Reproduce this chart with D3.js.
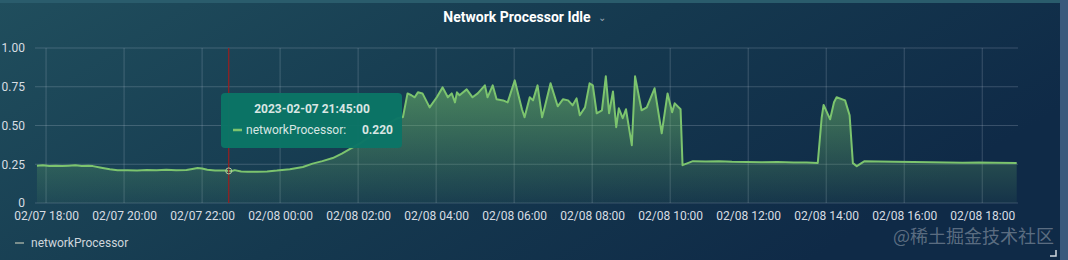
<!DOCTYPE html>
<html>
<head>
<meta charset="utf-8">
<script src="https://cdn.jsdelivr.net/npm/d3@7"></script>
<style>
  body { margin: 0; background: #14364e; }
  svg { display: block; font-family: Roboto, "Noto Sans", sans-serif; }
</style>
</head>
<body>
<div id="chart"></div>
<script>
// series: network processor idle, 2023-02-07 17:46 .. 2023-02-08 18:53
const times = [
  "2023-02-07 17:46","2023-02-07 17:55","2023-02-07 18:05","2023-02-07 18:15","2023-02-07 18:25",
  "2023-02-07 18:35","2023-02-07 18:45","2023-02-07 18:55","2023-02-07 19:05","2023-02-07 19:12",
  "2023-02-07 19:25","2023-02-07 19:38","2023-02-07 19:50","2023-02-07 20:05","2023-02-07 20:20",
  "2023-02-07 20:35","2023-02-07 20:50","2023-02-07 21:05","2023-02-07 21:20","2023-02-07 21:36",
  "2023-02-07 21:45","2023-02-07 21:53","2023-02-07 22:00","2023-02-07 22:08","2023-02-07 22:20",
  "2023-02-07 22:35","2023-02-07 22:45","2023-02-07 22:50","2023-02-07 23:00","2023-02-07 23:10",
  "2023-02-07 23:25","2023-02-07 23:40","2023-02-07 23:55","2023-02-08 00:15","2023-02-08 00:35",
  "2023-02-08 00:50","2023-02-08 01:05","2023-02-08 01:21","2023-02-08 01:35","2023-02-08 01:47",
  "2023-02-08 02:05","2023-02-08 02:25","2023-02-08 02:45","2023-02-08 03:00","2023-02-08 03:09",
  "2023-02-08 03:16","2023-02-08 03:22","2023-02-08 03:27","2023-02-08 03:32","2023-02-08 03:39",
  "2023-02-08 03:50","2023-02-08 04:01","2023-02-08 04:10","2023-02-08 04:18","2023-02-08 04:24",
  "2023-02-08 04:29","2023-02-08 04:32","2023-02-08 04:36","2023-02-08 04:47","2023-02-08 04:56",
  "2023-02-08 05:04","2023-02-08 05:15","2023-02-08 05:19","2023-02-08 05:27","2023-02-08 05:33",
  "2023-02-08 05:43","2023-02-08 05:50","2023-02-08 06:01","2023-02-08 06:12","2023-02-08 06:16",
  "2023-02-08 06:24","2023-02-08 06:29","2023-02-08 06:36","2023-02-08 06:43","2023-02-08 06:47",
  "2023-02-08 06:56","2023-02-08 07:07","2023-02-08 07:15","2023-02-08 07:23","2023-02-08 07:30",
  "2023-02-08 07:36","2023-02-08 07:41","2023-02-08 07:49","2023-02-08 07:56","2023-02-08 08:01",
  "2023-02-08 08:07","2023-02-08 08:15","2023-02-08 08:21","2023-02-08 08:26","2023-02-08 08:32",
  "2023-02-08 08:37","2023-02-08 08:41","2023-02-08 08:47","2023-02-08 08:52","2023-02-08 09:01",
  "2023-02-08 09:06","2023-02-08 09:16","2023-02-08 09:24","2023-02-08 09:36","2023-02-08 09:47",
  "2023-02-08 09:56","2023-02-08 10:03","2023-02-08 10:07","2023-02-08 10:16","2023-02-08 10:19",
  "2023-02-08 10:35","2023-02-08 10:55","2023-02-08 11:15","2023-02-08 11:35","2023-02-08 11:58",
  "2023-02-08 12:20","2023-02-08 12:45","2023-02-08 13:10","2023-02-08 13:30","2023-02-08 13:47",
  "2023-02-08 13:53","2023-02-08 13:56","2023-02-08 14:06","2023-02-08 14:12","2023-02-08 14:16",
  "2023-02-08 14:29","2023-02-08 14:36","2023-02-08 14:41","2023-02-08 14:47","2023-02-08 14:59",
  "2023-02-08 15:20","2023-02-08 15:45","2023-02-08 16:14","2023-02-08 16:40","2023-02-08 17:05",
  "2023-02-08 17:30","2023-02-08 17:55","2023-02-08 18:20","2023-02-08 18:53"
];
const values = [
  0.241,0.243,0.238,0.240,0.238,
  0.241,0.243,0.239,0.241,0.238,
  0.228,0.218,0.211,0.212,0.210,
  0.213,0.211,0.214,0.212,0.213,
  0.220,0.226,0.222,0.214,0.210,
  0.209,0.205,0.212,0.203,0.201,
  0.201,0.204,0.209,0.218,0.232,
  0.254,0.270,0.290,0.318,0.347,
  0.390,0.450,0.510,0.545,0.555,
  0.707,0.695,0.682,0.714,0.707,
  0.617,0.682,0.746,0.682,0.707,
  0.649,0.714,0.695,0.733,0.682,
  0.707,0.759,0.682,0.759,0.669,
  0.662,0.649,0.791,0.605,0.553,
  0.682,0.662,0.759,0.553,0.617,
  0.772,0.624,0.669,0.662,0.630,
  0.675,0.566,0.617,0.772,0.759,
  0.579,0.598,0.817,0.579,0.720,
  0.489,0.611,0.547,0.605,0.373,
  0.817,0.598,0.617,0.740,0.450,
  0.707,0.585,0.643,0.605,0.244,
  0.270,0.268,0.270,0.266,0.265,
  0.263,0.264,0.261,0.262,0.258,
  0.550,0.633,0.540,0.650,0.682,
  0.662,0.566,0.257,0.238,0.270,
  0.268,0.266,0.265,0.263,0.262,
  0.260,0.261,0.259,0.258
];
const yTicks = [0, 0.25, 0.5, 0.75, 1];
const xDomain = ["2023-02-07 17:43", "2023-02-08 18:55"];
const seriesName = "networkProcessor";
const hoverTime = "2023-02-07 22:41";
const tipTitle = "2023-02-07 21:45:00";
const tipValue = "0.220";

const W = 1068, H = 260;
const plot = {left: 35, right: 1018, top: 48, bottom: 203};
const parse = d3.timeParse("%Y-%m-%d %H:%M");
const data = times.map((t, i) => ({t: parse(t), v: values[i]}));

const svg = d3.select("#chart").append("svg")
  .attr("width", W).attr("height", H);

const defs = svg.append("defs");
const bg = defs.append("linearGradient").attr("id", "bg")
  .attr("x1", 0).attr("y1", 0).attr("x2", 1).attr("y2", 0.4);
bg.append("stop").attr("offset", "0%").attr("stop-color", "#204e5d");
bg.append("stop").attr("offset", "55%").attr("stop-color", "#15394f");
bg.append("stop").attr("offset", "100%").attr("stop-color", "#0f2a47");

const fillGrad = defs.append("linearGradient").attr("id", "fillGrad")
  .attr("gradientUnits", "userSpaceOnUse")
  .attr("x1", 0).attr("y1", plot.top).attr("x2", 0).attr("y2", plot.bottom);
fillGrad.append("stop").attr("offset", "0%").attr("stop-color", "#73bf69").attr("stop-opacity", 0.7);
fillGrad.append("stop").attr("offset", "100%").attr("stop-color", "#73bf69").attr("stop-opacity", 0.06);

// panel background
svg.append("rect").attr("width", W).attr("height", H).attr("fill", "url(#bg)");
svg.append("rect").attr("width", 1060).attr("height", 3).attr("fill", "#2a5c6c");
svg.append("rect").attr("x", 1060).attr("width", 8).attr("height", H).attr("fill", "#3b5a7c");

// title
svg.append("text")
  .attr("x", 517).attr("y", 22)
  .attr("text-anchor", "middle")
  .attr("fill", "#ffffff")
  .style("font-size", "14px").style("font-weight", "bold")
  .text("Network Processor Idle");
svg.append("text")
  .attr("x", 598).attr("y", 21)
  .attr("fill", "#9aa5b1")
  .style("font-size", "10px")
  .text("⌄");

// scales
const x = d3.scaleTime().domain(xDomain.map(parse)).range([plot.left, plot.right]);
const y = d3.scaleLinear().domain([0, 1]).range([plot.bottom, plot.top]);

// grid
const gridColor = "rgba(204,214,226,0.22)";
svg.append("g").selectAll("line").data(yTicks).join("line")
  .attr("x1", plot.left).attr("x2", plot.right)
  .attr("y1", d => y(d)).attr("y2", d => y(d))
  .attr("stroke", gridColor);
const xTicks = x.ticks(d3.timeHour.every(2));
svg.append("g").selectAll("line").data(xTicks).join("line")
  .attr("x1", d => x(d)).attr("x2", d => x(d))
  .attr("y1", plot.top).attr("y2", plot.bottom)
  .attr("stroke", gridColor);

// axes
const yAxis = svg.append("g")
  .attr("transform", "translate(" + (plot.left - 7) + ",0)")
  .call(d3.axisLeft(y).tickValues(yTicks).tickSize(0)
    .tickFormat(d => d === 0 ? "0" : d3.format(".2f")(d)));
const xAxis = svg.append("g")
  .attr("transform", "translate(0," + (plot.bottom + 5) + ")")
  .call(d3.axisBottom(x).tickValues(xTicks).tickSize(0)
    .tickFormat(d3.timeFormat("%m/%d %H:%M")));
[xAxis, yAxis].forEach(a => {
  a.select(".domain").remove();
  a.selectAll("text").attr("fill", "#d8dde3").style("font-size", "12px")
    .style("font-family", "Roboto, sans-serif");
});

// area + line
const area = d3.area().x(d => x(d.t)).y0(y(0)).y1(d => y(d.v));
const line = d3.line().x(d => x(d.t)).y(d => y(d.v));
svg.append("path").datum(data).attr("d", area).attr("fill", "url(#fillGrad)");
svg.append("path").datum(data).attr("d", line)
  .attr("fill", "none").attr("stroke", "#7cc46e").attr("stroke-width", 2)
  .attr("stroke-linejoin", "round");

// hover crosshair
const hx = x(parse(hoverTime));
svg.append("line")
  .attr("x1", hx).attr("x2", hx).attr("y1", plot.top).attr("y2", plot.bottom)
  .attr("stroke", "#9b1f1f").attr("stroke-width", 1.2);
svg.append("circle")
  .attr("cx", hx).attr("cy", y(0.207)).attr("r", 3)
  .attr("fill", "none").attr("stroke", "#b5c9a0").attr("stroke-width", 1);

// tooltip
const tip = svg.append("g").attr("transform", "translate(221,93)");
tip.append("rect").attr("width", 181).attr("height", 55).attr("rx", 4)
  .attr("fill", "#0b7566").attr("opacity", 0.97);
tip.append("text").attr("x", 91).attr("y", 20).attr("text-anchor", "middle")
  .attr("fill", "#d9e6e3").style("font-size", "12px").style("font-weight", "bold")
  .text(tipTitle);
tip.append("line").attr("x1", 12).attr("x2", 21).attr("y1", 37).attr("y2", 37)
  .attr("stroke", "#7cc46e").attr("stroke-width", 2.5);
tip.append("text").attr("x", 25).attr("y", 41)
  .attr("fill", "#d9e6e3").style("font-size", "12px")
  .text(seriesName + ":");
tip.append("text").attr("x", 172).attr("y", 41).attr("text-anchor", "end")
  .attr("fill", "#d9e6e3").style("font-size", "12px").style("font-weight", "bold")
  .text(tipValue);

// legend
svg.append("line").attr("x1", 15).attr("x2", 24).attr("y1", 243).attr("y2", 243)
  .attr("stroke", "#7a8e8c").attr("stroke-width", 2);
svg.append("text").attr("x", 31).attr("y", 247)
  .attr("fill", "#cfd6dc").style("font-size", "12px")
  .text(seriesName);

// watermark
svg.append("text").attr("x", 1054).attr("y", 243).attr("text-anchor", "end")
  .attr("fill", "rgba(255,255,255,0.33)")
  .style("font-size", "18px").style("font-family", "'Noto Sans CJK SC', sans-serif")
  .text("@稀土掘金技术社区");

// resize corner
svg.append("path").attr("d", "M1050,256 L1056,256 L1056,250")
  .attr("fill", "none").attr("stroke", "#d0d8e0").attr("stroke-width", 1.5);
</script>
</body>
</html>
